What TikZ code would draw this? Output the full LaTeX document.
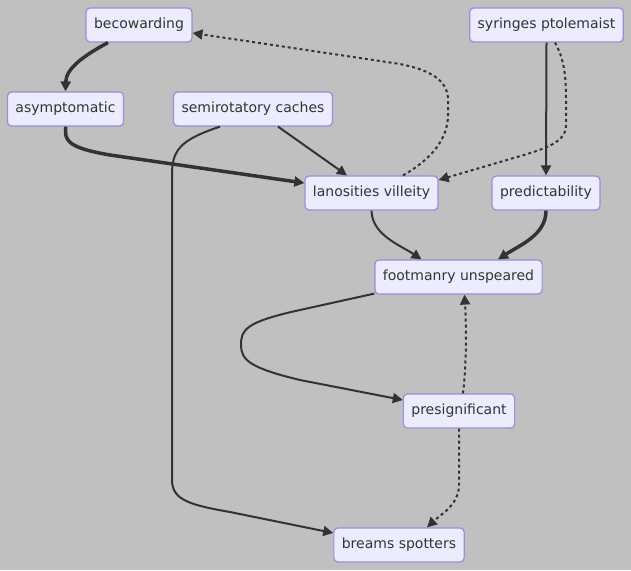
\documentclass[tikz,border=0pt]{standalone}
\usepackage{fontspec}
\setmainfont{DejaVu Sans}
\usetikzlibrary{arrows.meta}
\definecolor{bg}{HTML}{C0C0C0}
\definecolor{nodefill}{HTML}{ECECFF}
\definecolor{nodeline}{HTML}{9F8AD9}
\definecolor{ink}{HTML}{333333}
\tikzset{
  box/.style={draw=nodeline, fill=nodefill, line width=1.2pt, rounded corners=4pt,
    minimum height=34pt, inner xsep=8pt, inner ysep=0pt, text=ink,
    font=\fontsize{14pt}{16pt}\selectfont},
  edge/.style={draw=ink, line width=2pt, -{Triangle[length=10pt,width=10pt]}},
  thickedge/.style={edge, line width=3.5pt},
  dotedge/.style={edge, dash pattern=on 3pt off 3pt},
}
\begin{document}
\begin{tikzpicture}[x=1pt,y=-1pt]
\fill[bg] (0,0) rectangle (631,570);
\useasboundingbox (0,0) rectangle (631,570);
\node[box] (bec) at (139,25) {becowarding};
\node[box] (syr) at (546.5,25) {syringes ptolemaist};
\node[box] (asy) at (65.5,109) {asymptomatic};
\node[box] (sem) at (253,109) {semirotatory caches};
\node[box] (lan) at (371.5,193) {lanosities villeity};
\node[box] (pre) at (546,193) {predictability};
\node[box] (foo) at (458.5,277) {footmanry unspeared};
\node[box] (prs) at (459,411) {presignificant};
\node[box] (bre) at (399,545) {breams spotters};

\draw[thickedge] ([xshift=-31pt]bec.south) .. controls (85,55) and (66,68) .. (asy.north);
\draw[thickedge] (asy.south) -- (65.5,132) .. controls (65.5,143) and (75,149) .. (110,155) -- ([yshift=10pt]lan.west);
\draw[edge] ([xshift=25pt]sem.south) -- ([xshift=-24.5pt]lan.north);
\draw[edge] ([xshift=-33pt]sem.south) .. controls (180,140) and (172,150) .. (172,175) -- (172,480) .. controls (172,500) and (190,505) .. (230,512) -- ([yshift=12pt]bre.west);
\draw[dotedge] ([xshift=31.5pt]lan.north) .. controls (430,160) and (448,140) .. (448,115) -- (448,100) .. controls (448,80) and (430,70) .. (400,64) -- ([yshift=-8pt]bec.east);
\draw[edge] (syr.south) -- (pre.north);
\draw[dotedge] ([xshift=8.5pt]syr.south) .. controls (565,60) and (566,80) .. (566,100) -- (566,125) .. controls (566,145) and (540,150) .. (500,162) -- ([yshift=13pt]lan.east);
\draw[edge] (lan.south) .. controls (372,235) and (400,245) .. ([xshift=-37pt]foo.north);
\draw[thickedge] (pre.south) .. controls (546,235) and (520,245) .. ([xshift=39.5pt]foo.north);
\draw[edge] ([yshift=1pt]foo.south west) -- (300,310) .. controls (245,322) and (241,330) .. (241,345) .. controls (241,360) and (250,368) .. (300,380) -- ([yshift=11pt]prs.west);
\draw[dotedge] ([xshift=4pt]prs.north) .. controls (467,360) and (466,320) .. ([xshift=6pt]foo.south);
\draw[dotedge] (prs.south) -- (459,485) .. controls (459,505) and (440,515) .. ([xshift=28pt]bre.north);
\end{tikzpicture}
\end{document}
